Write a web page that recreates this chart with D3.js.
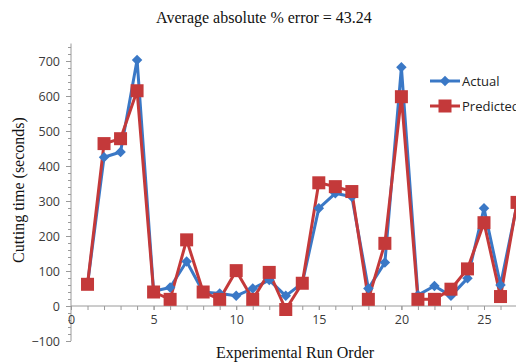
<!DOCTYPE html>
<html><head><meta charset="utf-8">
<script src="https://cdn.jsdelivr.net/npm/d3@7"></script>
<style>body{margin:0;background:#fff;}svg{display:block;}</style>
</head><body>
<svg id="c" width="516" height="364"></svg>
<script>
const runs = [1,2,3,4,5,6,7,8,9,10,11,12,13,14,15,16,17,18,19,20,21,22,23,24,25,26,27];
const actual =    [62,425,440,703,42,53,127,40,36,29,50,74,29,65,279,322,312,50,124,682,31,57,29,79,279,60,290];
const predicted = [62,464,478,615,40,19,189,40,19,101,19,96,-10,65,352,341,327,19,179,598,19,19,48,106,238,27,296];
const xTicks = [0,5,10,15,20,25];
const yTicks = [-100,0,100,200,300,400,500,600,700];
const seriesNames = ["Actual","Predicted"];
const colors = ["#3a78c6","#c4393a"];

const svg = d3.select("#c");
const x = d3.scaleLinear().domain([0,30]).range([71, 71+30*16.52]);
const y = d3.scaleLinear().domain([-100,750]).range([341, 341-850*0.35]);

// y axis
const yAxisG = svg.append("g").attr("transform","translate(71,0)");
yAxisG.call(d3.axisLeft(y).tickValues(d3.range(-100,751,20)).tickSize(3).tickFormat(""));
yAxisG.selectAll("line").attr("stroke","#9a9a9a");
yAxisG.select(".domain").attr("stroke","#9a9a9a").attr("d","M0,"+y(-100)+"V"+y(750));
const yMaj = svg.append("g").attr("transform","translate(71,0)")
  .call(d3.axisLeft(y).tickValues(yTicks).tickSize(5).tickPadding(6));
yMaj.select(".domain").remove();
yMaj.selectAll("line").attr("stroke","#9a9a9a");
yMaj.selectAll("text").attr("font-family","Open Sans, sans-serif").attr("font-size",12.5).attr("fill","#3a3a3a");

// x axis at y=0
const xAxisG = svg.append("g").attr("transform","translate(0,"+y(0)+")");
xAxisG.call(d3.axisBottom(x).tickValues(d3.range(0,31,1)).tickSize(4).tickFormat(""));
xAxisG.selectAll("line").attr("stroke","#9a9a9a");
xAxisG.select(".domain").attr("stroke","#9a9a9a").attr("d","M"+x(0)+",0H"+x(30));
const xMaj = svg.append("g").attr("transform","translate(0,"+y(0)+")")
  .call(d3.axisBottom(x).tickValues(xTicks).tickSize(4).tickPadding(5));
xMaj.select(".domain").remove();
xMaj.selectAll("line").attr("stroke","#9a9a9a");
xMaj.selectAll("text").attr("font-family","Open Sans, sans-serif").attr("font-size",12.5).attr("fill","#3a3a3a");

// lines
const line = d3.line().x((d,i)=>x(runs[i])).y(d=>y(d));
[actual,predicted].forEach((s,k)=>{
  svg.append("path").datum(s).attr("d",line).attr("fill","none")
    .attr("stroke",colors[k]).attr("stroke-width",3).attr("stroke-linejoin","round");
});
// markers
svg.append("g").selectAll("path").data(actual).join("path")
  .attr("d",d3.symbol().type(d3.symbolDiamond2).size(70))
  .attr("transform",(d,i)=>"translate("+x(runs[i])+","+y(d)+")")
  .attr("fill",colors[0]);
svg.append("g").selectAll("rect").data(predicted).join("rect")
  .attr("x",(d,i)=>x(runs[i])-6.5).attr("y",d=>y(d)-6.5)
  .attr("width",13).attr("height",13).attr("fill",colors[1]);

// legend
const lg = svg.append("g");
seriesNames.forEach((n,k)=>{
  const ly = 81 + k*25;
  lg.append("line").attr("x1",430).attr("x2",460).attr("y1",ly).attr("y2",ly)
    .attr("stroke",colors[k]).attr("stroke-width",3);
  if(k===0) lg.append("path").attr("d",d3.symbol().type(d3.symbolDiamond2).size(70))
    .attr("transform","translate(445,"+ly+")").attr("fill",colors[0]);
  else lg.append("rect").attr("x",438.5).attr("y",ly-6.5).attr("width",13).attr("height",13).attr("fill",colors[1]);
  lg.append("text").attr("x",462).attr("y",ly+4.5).text(n)
    .attr("font-family","Open Sans, sans-serif").attr("font-size",13).attr("fill","#222");
});

// titles
svg.append("text").attr("x",264).attr("y",23).attr("text-anchor","middle")
  .attr("font-family","Liberation Serif, serif").attr("font-size",16).attr("fill","#111")
  .text("Average absolute % error = 43.24");
svg.append("text").attr("x",295).attr("y",358).attr("text-anchor","middle")
  .attr("font-family","Liberation Serif, serif").attr("font-size",16).attr("fill","#111")
  .text("Experimental Run Order");
svg.append("text").attr("transform","translate(24,190) rotate(-90)").attr("text-anchor","middle")
  .attr("font-family","Liberation Serif, serif").attr("font-size",16).attr("fill","#111")
  .text("Cutting time (seconds)");
</script>
</body></html>
